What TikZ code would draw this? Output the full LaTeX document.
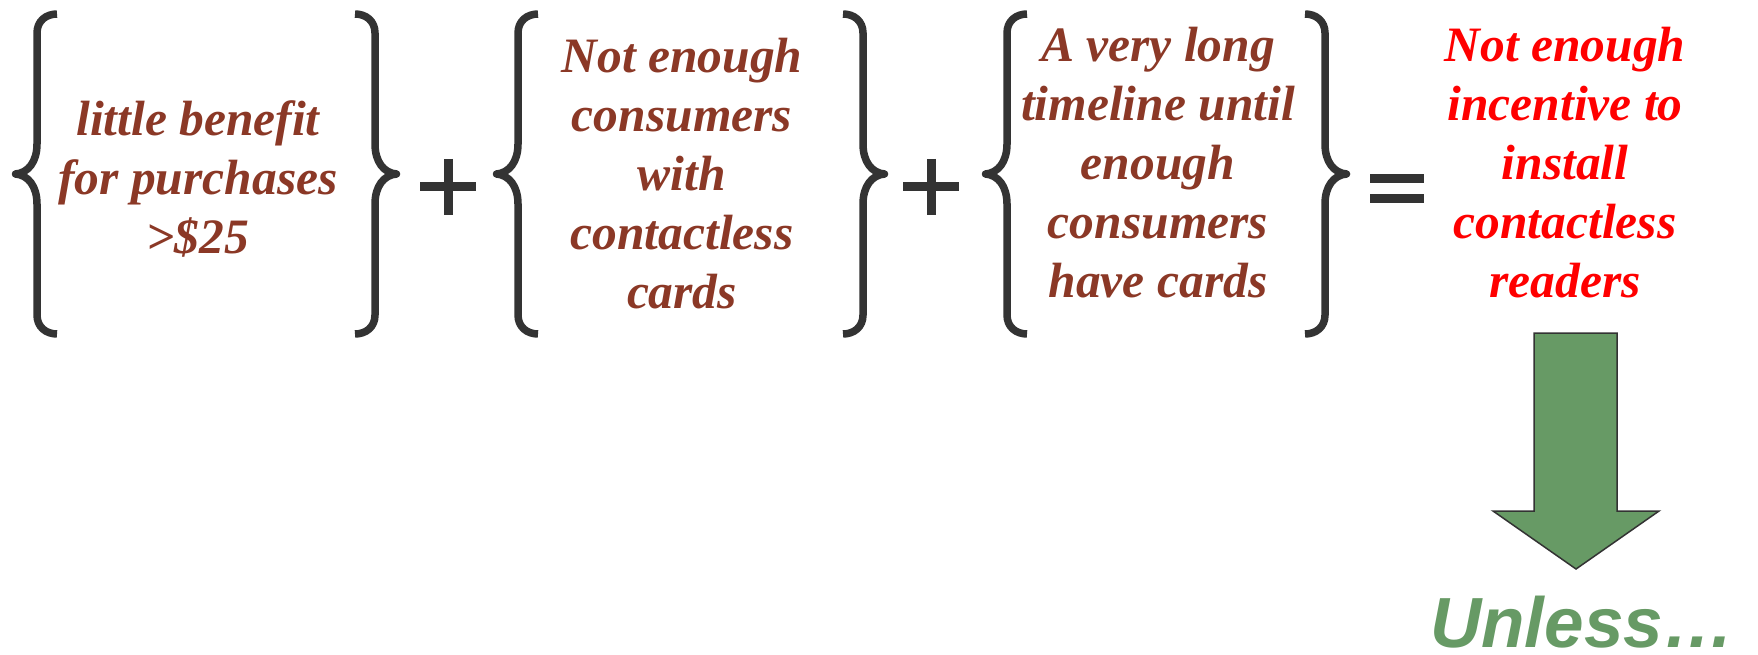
\documentclass[tikz,border=0pt]{standalone}
\usepackage{fontspec}
\setmainfont{Liberation Serif}
\newfontfamily\sansbi{Liberation Sans}
\definecolor{brownred}{RGB}{139,56,38}
\definecolor{bracegray}{RGB}{51,51,51}
\definecolor{arrowgreen}{RGB}{103,154,101}
\begin{document}
\begin{tikzpicture}[x=1pt,y=-1pt,
  bracestyle/.style={draw=bracegray, line width=7.5pt, line join=round},
  op/.style={draw=bracegray, line width=9pt},
  lbl/.style={font=\fontsize{49.5}{59}\selectfont\bfseries\itshape, align=center, inner sep=0pt, anchor=base},
  brace/.pic={\draw[bracestyle] (20,-160) .. controls (9,-160) and (0,-153) .. (0,-141) -- (0,-30) .. controls (0,-12) and (-9,-1) .. (-21.5,0) .. controls (-9,1) and (0,12) .. (0,30) -- (0,141) .. controls (0,153) and (9,160) .. (20,160);}
]
\fill[white] (0,0) rectangle (1758,655);
\useasboundingbox (0,0) rectangle (1758,655);
% braces
\pic at (37,174) {brace};
\pic[xscale=-1] at (375,174) {brace};
\pic at (518,174) {brace};
\pic[xscale=-1] at (863,174) {brace};
\pic at (1007,174) {brace};
\pic[xscale=-1] at (1325,174) {brace};
% operators
\draw[op] (420,187) -- (476,187);
\draw[op] (448,159) -- (448,215);
\draw[op] (903,187) -- (959,187);
\draw[op] (931,159) -- (931,215);
\draw[op] (1370,179) -- (1424,179);
\draw[op] (1370,199) -- (1424,199);
% texts
\node[lbl, text=brownred] (t1) at (198,253) {little benefit\\for purchases\\>\$25};
\node[lbl, text=brownred] (t2) at (682,308) {Not enough\\consumers\\with\\contactless\\cards};
\node[lbl, text=brownred] (t3) at (1158,297) {A very long\\timeline until\\enough\\consumers\\have cards};
\node[lbl, text=red] (t4) at (1565,297) {Not enough\\incentive to\\install\\contactless\\readers};
% arrow
\draw[draw=black!80, line width=1.5pt, fill=arrowgreen, line join=miter]
  (1534,333) -- (1617,333) -- (1617,511) -- (1659,511) -- (1576,569) -- (1493,511) -- (1534,511) -- cycle;
\node[font=\sansbi\fontsize{71}{80}\selectfont\bfseries\itshape, text=arrowgreen, anchor=base west, inner sep=0pt, text depth=0pt] (unless) at (1430,647) {Unless…};
\end{tikzpicture}
\end{document}
